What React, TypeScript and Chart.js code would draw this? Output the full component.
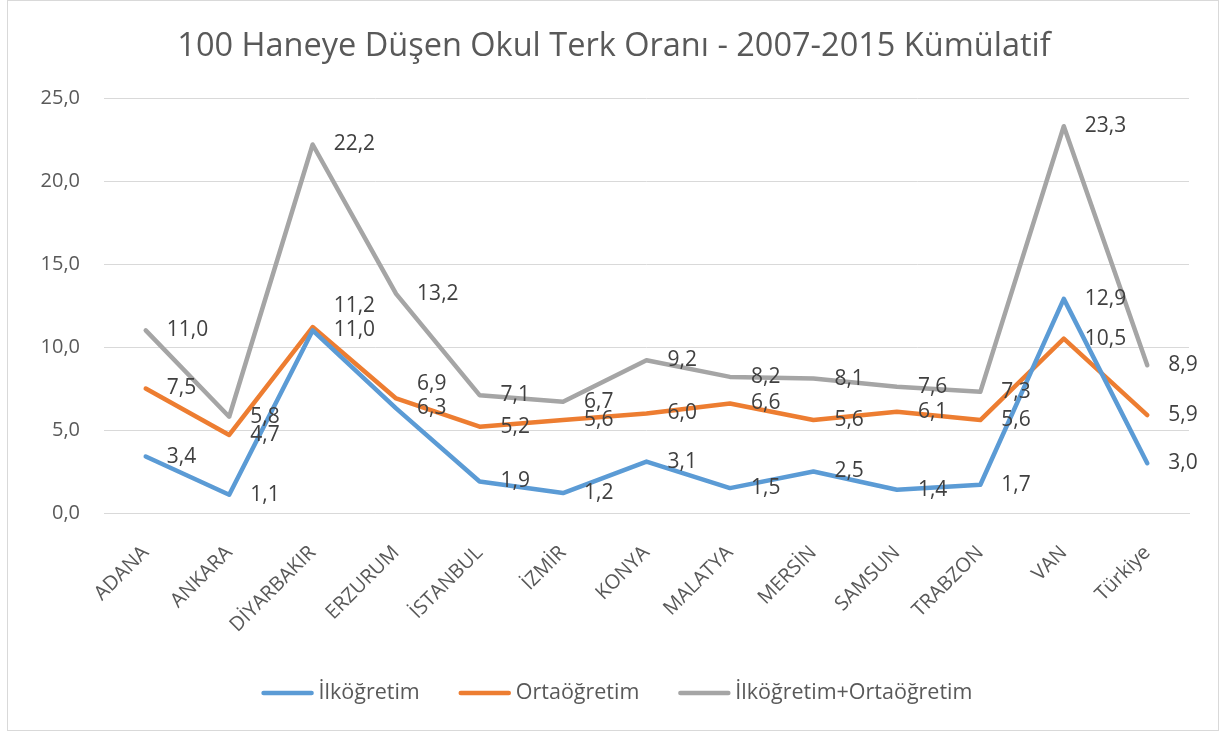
import React, { useEffect, useRef } from "react";
import { Chart, registerables } from "chart.js";

Chart.register(...registerables);

const categories = ["ADANA", "ANKARA", "DİYARBAKIR", "ERZURUM", "İSTANBUL", "İZMİR", "KONYA", "MALATYA", "MERSİN", "SAMSUN", "TRABZON", "VAN", "Türkiye"];
const ilkogretim = [3.4, 1.1, 11.0, 6.3, 1.9, 1.2, 3.1, 1.5, 2.5, 1.4, 1.7, 12.9, 3.0];
const ortaogretim = [7.5, 4.7, 11.2, 6.9, 5.2, 5.6, 6.0, 6.6, 5.6, 6.1, 5.6, 10.5, 5.9];
const toplam = [11.0, 5.8, 22.2, 13.2, 7.1, 6.7, 9.2, 8.2, 8.1, 7.6, 7.3, 23.3, 8.9];
const seriesNames = ["İlköğretim", "Ortaöğretim", "İlköğretim+Ortaöğretim"];
const seriesColors = ["#5B9BD5", "#ED7D31", "#A5A5A5"];
const yMin = 0;
const yMax = 25;
const yStep = 5;
const titleText = "100 Haneye Düşen Okul Terk Oranı - 2007-2015 Kümülatif";

const FONT = "'Open Sans', sans-serif";
const fmt = (v: number) => Number(v).toFixed(1).replace(".", ",");

const dataLabelPlugin = {
  id: "dataLabels",
  afterDatasetsDraw(chart: any) {
    const ctx = chart.ctx;
    const groups: Record<number, any[]> = {};
    chart.data.datasets.forEach((ds: any, di: number) => {
      const meta = chart.getDatasetMeta(di);
      meta.data.forEach((pt: any, i: number) => {
        (groups[i] = groups[i] || []).push({ x: pt.x, y: pt.y, text: fmt(ds.data[i]) });
      });
    });
    ctx.save();
    ctx.font = `21px ${FONT}`;
    ctx.fillStyle = "#404040";
    ctx.textAlign = "left";
    ctx.textBaseline = "middle";
    Object.values(groups).forEach((arr) => {
      arr.sort((a, b) => b.y - a.y);
      for (let k = 1; k < arr.length; k++) {
        if (arr[k - 1].y - arr[k].y < 15) arr[k].y = arr[k - 1].y - 24;
      }
      arr.forEach((l) => ctx.fillText(l.text, l.x + 21, l.y));
    });
    ctx.restore();
  },
};

const titleLegendPlugin = {
  id: "titleLegend",
  afterDraw(chart: any) {
    const ctx = chart.ctx;
    const w = chart.width;
    ctx.save();
    ctx.fillStyle = "#595959";
    ctx.font = `32.5px ${FONT}`;
    ctx.textAlign = "center";
    ctx.textBaseline = "alphabetic";
    ctx.fillText(titleText, w / 2 + 1, 55);

    ctx.font = `21.5px ${FONT}`;
    const lineW = 52;
    const gapText = 5;
    const gapItem = 39;
    const widths = seriesNames.map((n) => ctx.measureText(n).width);
    const total = widths.reduce((s, tw) => s + lineW + gapText + tw, 0) + gapItem * (seriesNames.length - 1);
    let x = w / 2 + 4 - total / 2;
    const y = 692;
    ctx.textAlign = "left";
    ctx.textBaseline = "middle";
    seriesNames.forEach((n, i) => {
      ctx.strokeStyle = seriesColors[i];
      ctx.lineWidth = 4.5;
      ctx.lineCap = "round";
      ctx.beginPath();
      ctx.moveTo(x + 2, y);
      ctx.lineTo(x + lineW - 2, y);
      ctx.stroke();
      ctx.fillStyle = "#595959";
      ctx.fillText(n, x + lineW + gapText, y);
      x += lineW + gapText + widths[i] + gapItem;
    });
    ctx.restore();
  },
};

export default function App() {
  const ref = useRef<HTMLCanvasElement>(null);
  useEffect(() => {
    if (!ref.current) return;
    const series = [ilkogretim, ortaogretim, toplam];
    const chart = new Chart(ref.current, {
      type: "line",
      data: {
        labels: categories,
        datasets: series.map((d, i) => ({
          label: seriesNames[i],
          data: d,
          borderColor: seriesColors[i],
          backgroundColor: seriesColors[i],
          borderWidth: 4.5,
          pointRadius: 0,
          pointHoverRadius: 0,
          tension: 0,
          fill: false,
          borderJoinStyle: "round",
          borderCapStyle: "round",
        })),
      },
      options: {
        animation: false,
        responsive: true,
        maintainAspectRatio: false,
        layout: { padding: { top: 97, right: 29, left: 0, bottom: 0 } },
        plugins: {
          legend: { display: false },
          title: { display: false },
          tooltip: { enabled: false },
        },
        scales: {
          x: {
            offset: true,
            grid: { display: false, drawTicks: false },
            border: { color: "#D9D9D9", width: 1 },
            ticks: {
              color: "#595959",
              font: { family: FONT, size: 20 },
              maxRotation: 45,
              minRotation: 45,
              autoSkip: false,
              padding: 28,
            },
            afterFit: (s: any) => {
              s.height = 217;
            },
          },
          y: {
            min: yMin,
            max: yMax,
            ticks: {
              stepSize: yStep,
              callback: (v: any) => fmt(v),
              color: "#595959",
              font: { family: FONT, size: 20 },
              padding: 24,
            },
            grid: { color: "#D9D9D9", lineWidth: 1, drawTicks: false },
            border: { display: false },
            afterFit: (s: any) => {
              s.width = 96;
            },
          },
        },
      } as any,
      plugins: [dataLabelPlugin, titleLegendPlugin],
    });
    return () => chart.destroy();
  }, []);

  return (
    <div
      style={{
        position: "absolute",
        left: 7,
        top: 0,
        width: 1212,
        height: 731,
        boxSizing: "border-box",
        border: "1px solid #D9D9D9",
        background: "#fff",
      }}
    >
      <canvas ref={ref} />
    </div>
  );
}
